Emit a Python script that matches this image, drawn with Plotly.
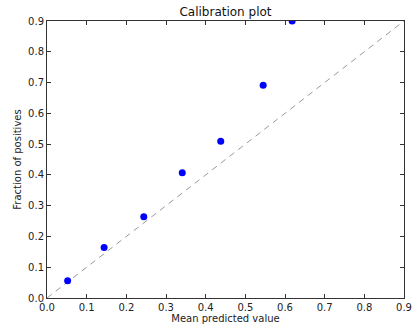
import plotly.graph_objects as go

mean_pred = [0.052, 0.144, 0.244, 0.341, 0.438, 0.545, 0.618]
frac_pos = [0.056, 0.164, 0.264, 0.407, 0.509, 0.691, 0.900]
diag = [0.0, 1.0]
ticks = [0.0, 0.1, 0.2, 0.3, 0.4, 0.5, 0.6, 0.7, 0.8, 0.9]
tick_labels = ["0.0", "0.1", "0.2", "0.3", "0.4", "0.5", "0.6", "0.7", "0.8", "0.9"]

fig = go.Figure()
fig.add_trace(go.Scatter(x=diag, y=diag, mode="lines",
                         line=dict(color="#999999", width=1, dash="6px,5px"),
                         hoverinfo="skip", showlegend=False))
fig.add_trace(go.Scatter(x=mean_pred, y=frac_pos, mode="markers",
                         marker=dict(color="#0000ff", size=7, line=dict(width=0)),
                         cliponaxis=True, showlegend=False))

axis_common = dict(
    tickmode="array", tickvals=ticks, ticktext=tick_labels,
    range=[0, 0.9], showgrid=False, zeroline=False, automargin=False,
    showline=True, linecolor="#333333", linewidth=1, mirror="allticks",
    ticks="inside", ticklen=4, tickcolor="#333333", tickwidth=1,
    tickfont=dict(family="DejaVu Sans", size=10, color="#222222"),
)

fig.update_layout(
    width=412, height=327,
    margin=dict(l=47, r=8, t=21, b=29, autoexpand=False),
    paper_bgcolor="white", plot_bgcolor="white",
    title=dict(text="Calibration plot", x=0.5, xanchor="center", xref="paper",
               y=1 - 12/327, yanchor="middle", yref="container",
               font=dict(family="DejaVu Sans", size=12, color="#111111"),
               automargin=False),
    xaxis=dict(**axis_common,
               title=dict(text="Mean predicted value", standoff=1,
                          font=dict(family="DejaVu Sans", size=10, color="#222222"))),
    yaxis=dict(**axis_common,
               title=dict(text="Fraction of positives", standoff=4,
                          font=dict(family="DejaVu Sans", size=10, color="#222222"))),
)

fig.write_html("out.html", config={"displayModeBar": False},
               post_script="document.body.style.margin='0';document.body.style.overflow='hidden';")
